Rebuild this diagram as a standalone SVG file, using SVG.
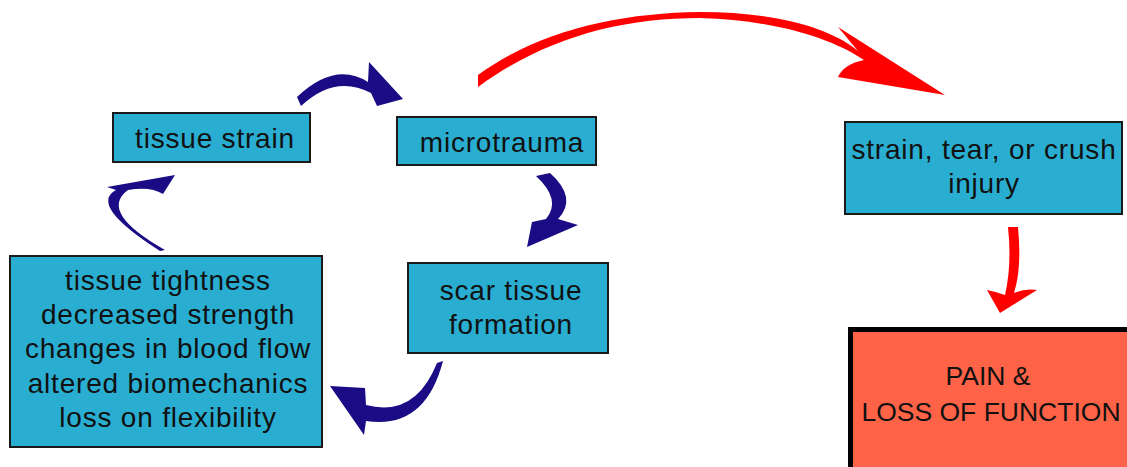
<svg xmlns="http://www.w3.org/2000/svg" width="1127" height="467" viewBox="0 0 1127 467">
<style>
.box{fill:#29aed1;stroke:#1a1a1a;stroke-width:2}
.t{font-family:"Liberation Sans",Arial,sans-serif;font-size:28px;letter-spacing:0.8px;fill:#111;text-anchor:middle}
.pain{fill:#ff6347;stroke:#000;stroke-width:5}
.pt{font-family:"Liberation Sans",Arial,sans-serif;font-size:26.5px;fill:#111;text-anchor:middle}
.blue{fill:#1b0b85}
.red{fill:#ff0000}
</style>
<rect width="1127" height="467" fill="#fff"/>
<g id="connectors">
<path class="blue" d="M297,97 Q335,61 368,82 L369,62 L403,99 L377,106 L371,93 Q335,74 301,106 Z"/>
<path class="blue" d="M536,176 L550,173 Q578,198 558,219 L578,225 L527,247 L532,222 L546,219 Q562,200 536,176 Z"/>
<path class="blue" d="M437,363 L443,361 Q425,430 366,421 L364,435 L330,386 L365,388 L366,405 Q415,418 437,363 Z"/>
<path class="blue" d="M107,187 L175,175 L163,194 Q150,186 128,190 Q98,212 165,250 L160,251 Q88,205 116,190 Z"/>
<path class="red" d="M478,75 C540,30 620,13 700,12 C770,12 828,26 858,51 L838,27 L945,95 L838,77 Q844,64 864,60 C828,36 770,20 700,18 C620,18 545,38 478,87 Z"/>
<path class="red" d="M1008,227 L1018,227 Q1022,268 1014,293 Q1025,288 1037,290 L1000,313 L987,290 Q997,292 1005,295 Q1012,265 1008,227 Z"/>
</g>
<g id="node-tissue-strain">
<rect class="box" x="113" y="113" width="197" height="49"/>
<text class="t" x="215" y="148">tissue strain</text>
</g>
<g id="node-microtrauma">
<rect class="box" x="397" y="117" width="199" height="48"/>
<text class="t" x="502" y="152">microtrauma</text>
</g>
<g id="node-scar-tissue">
<rect class="box" x="408" y="263" width="200" height="90"/>
<text class="t" x="511" y="300">scar tissue</text>
<text class="t" x="511" y="334">formation</text>
</g>
<g id="node-effects">
<rect class="box" x="10" y="256" width="312" height="191"/>
<text class="t" x="168" y="290">tissue tightness</text>
<text class="t" x="168" y="324">decreased strength</text>
<text class="t" x="168" y="358">changes in blood flow</text>
<text class="t" x="168" y="393">altered biomechanics</text>
<text class="t" x="168" y="427">loss on flexibility</text>
</g>
<g id="node-injury">
<rect class="box" x="845" y="122" width="277" height="92"/>
<text class="t" x="984" y="159">strain, tear, or crush</text>
<text class="t" x="984" y="193">injury</text>
</g>
<g id="node-pain">
<rect class="pain" x="850.5" y="329.5" width="285" height="145"/>
<text class="pt" x="988" y="385">PAIN &amp;</text>
<text class="pt" x="991" y="421">LOSS OF FUNCTION</text>
</g>
</svg>
